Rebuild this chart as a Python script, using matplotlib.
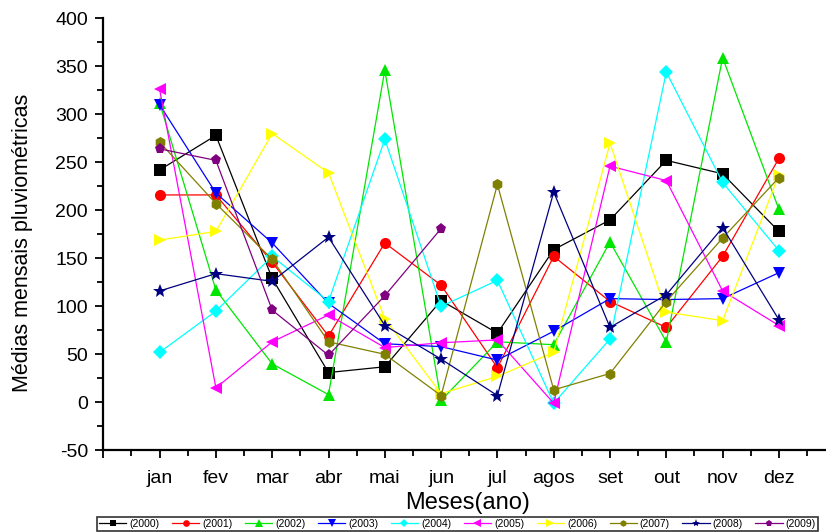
import numpy as np
import matplotlib
matplotlib.use("Agg")
import matplotlib.pyplot as plt
from matplotlib.ticker import MultipleLocator, FixedLocator

months = ["jan", "fev", "mar", "abr", "mai", "jun", "jul", "agos", "set", "out", "nov", "dez"]
nan = np.nan

y2000 = [242, 278, 129, 31, 37, 106, 72, 159, 190, 252, 238, 178]
y2001 = [216, 216, 146, 69, 166, 122, 36, 152, 105, 78, 152, 254]
y2002 = [312, 117, 40, 8, 346, 2, 63, 60, 167, 63, 359, 201]
y2003 = [310, 218, 166, 103, 61, 58, 44, 74, 108, 107, 108, 135]
y2004 = [52, 95, 152, 105, 274, 100, 127, -1, 66, 344, 229, 158]
y2005 = [326, 15, 63, 91, 57, 62, 65, -1, 246, 231, 116, 80]
y2006 = [169, 178, 280, 239, 87, 9, 27, 52, 270, 94, 85, 237]
y2007 = [271, 207, 149, 63, 50, 7, 227, 13, 30, 105, 171, 234]
y2008 = [116, 134, 126, 172, 80, 45, 7, 219, 78, 112, 182, 86]
y2009 = [264, 252, 96, 49, 111, 181, nan, nan, nan, nan, nan, nan]

series = [
    ("(2000)", y2000, "#000000", "s"),
    ("(2001)", y2001, "#FF0000", "o"),
    ("(2002)", y2002, "#00E600", "^"),
    ("(2003)", y2003, "#0000FF", "v"),
    ("(2004)", y2004, "#00FFFF", "D"),
    ("(2005)", y2005, "#FF00FF", "<"),
    ("(2006)", y2006, "#FFFF00", ">"),
    ("(2007)", y2007, "#808000", "h"),
    ("(2008)", y2008, "#000080", "*"),
    ("(2009)", y2009, "#800080", "p"),
]

plt.rcParams["font.family"] = ["Liberation Sans", "DejaVu Sans"]
plt.rcParams["axes.unicode_minus"] = False

fig = plt.figure(figsize=(8.26, 5.32), dpi=100)
ax = fig.add_axes([103.3 / 826, 1 - 450.3 / 532, (826 - 103.3) / 826, (450.3 - 18.3) / 532])

x = np.arange(1, len(months) + 1)
handles = []
for label, vals, color, mk in series:
    ms = 8
    if mk == "*":
        ms = 10
    elif mk == "D":
        ms = 7
    elif mk in ("^", "v", "<", ">"):
        ms = 9
    h, = ax.plot(x, vals, color=color, lw=0.9, marker=mk, markersize=ms,
                 markeredgewidth=0, label=label)
    handles.append(h)

ax.set_xlim(0, (826 - 103.3) / 56.3)
ax.set_ylim(-50, 400)

ax.set_xticks(np.arange(0, 13))
ax.set_xticklabels([""] + months)
ax.xaxis.set_minor_locator(FixedLocator(np.arange(0.5, 13, 1.0)))
ax.yaxis.set_major_locator(MultipleLocator(50))
ax.yaxis.set_minor_locator(MultipleLocator(25))

ax.tick_params(axis="both", which="major", direction="out", length=6, width=1.3, labelsize=14)
ax.tick_params(axis="both", which="minor", direction="out", length=4, width=1.3)
ax.tick_params(axis="x", which="major", pad=8)
ax.tick_params(axis="y", which="major", pad=5)

for s in ["top", "right"]:
    ax.spines[s].set_visible(False)
for s in ["left", "bottom"]:
    ax.spines[s].set_linewidth(1.6)

fig.text(23 / 826, 1 - 243 / 532, "Médias mensais pluviométricas", fontsize=15.5,
         rotation=90, ha="center", va="center")
fig.text(468 / 826, 1 - 503 / 532, "Meses(ano)", fontsize=17, ha="center", va="center")

leg = fig.legend(handles=handles, loc="lower left", ncol=10,
                 bbox_to_anchor=(97 / 826, 1 - 531 / 532, (818 - 97) / 826, 18 / 532),
                 mode="expand", fontsize=7.5, frameon=True, fancybox=False,
                 edgecolor="black", borderpad=0.2, handlelength=2.6, handletextpad=0.3,
                 columnspacing=0.6, markerscale=0.6, borderaxespad=0)
leg.get_frame().set_linewidth(1.2)

fig.savefig("out.png", dpi=100)
